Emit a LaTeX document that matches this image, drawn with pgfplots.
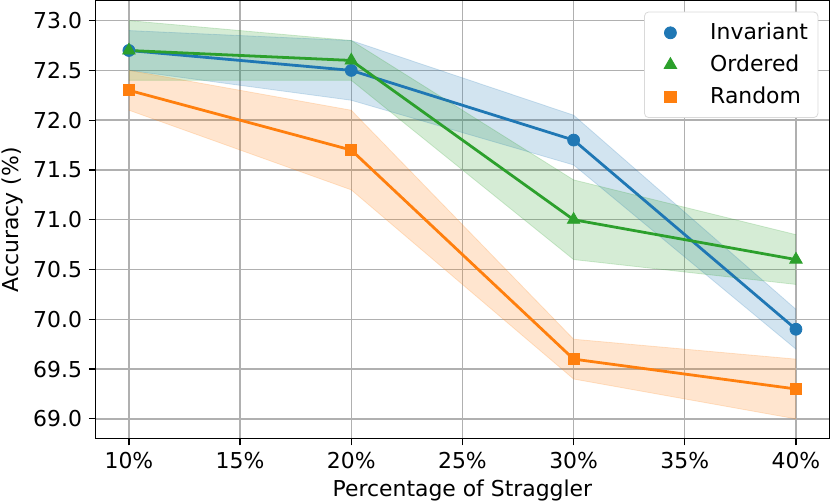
\documentclass[border=0pt]{standalone}
\usepackage{fontspec}
\setmainfont{DejaVu Sans}
\usepackage{pgfplots}
\pgfplotsset{compat=1.18}
\usepgfplotslibrary{fillbetween}
\definecolor{tblue}{HTML}{1F77B4}
\definecolor{torange}{HTML}{FF7F0E}
\definecolor{tgreen}{HTML}{2CA02C}
\definecolor{gridgray}{HTML}{B0B0B0}
\begin{document}
\begin{tikzpicture}
\begin{axis}[
  scale only axis,
  width=368.5pt, height=220pt,
  xmin=8.5, xmax=41.5,
  ymin=68.8, ymax=73.2,
  xtick={10,15,...,40},
  xticklabel={\pgfmathprintnumber{\tick}\%},
  ytick={69,69.5,...,73},
  yticklabel style={/pgf/number format/.cd,fixed,fixed zerofill,precision=1},
  /pgf/number format/assume math mode=true,
  font=\fontsize{11}{13}\selectfont,
  tick label style={font=\fontsize{11}{13}\selectfont},
  xlabel={Percentage of Straggler},
  ylabel={Accuracy (\%)},
  xlabel style={inner sep=1pt, yshift=-1pt},
  ylabel style={inner sep=1pt, yshift=0.5pt},
  grid=major,
  major grid style={gridgray, line width=0.7pt},
  axis line style={line width=0.6pt},
  tick style={black, line width=0.6pt},
  tick align=outside,
  major tick length=3.3pt,
  xtick pos=bottom, ytick pos=left,
  legend cell align=left,
  legend style={at={(0.985,0.975)}, anchor=north east,
    draw=gray!30, rounded corners=2pt, font=\fontsize{11}{13}\selectfont,
    row sep=2.2pt, inner xsep=3pt, inner ysep=3.5pt},
  legend image code/.code={\path[draw=none,fill=none] (0pt,0pt) -- (28pt,0pt);\draw[#1] plot coordinates {(10pt,0pt)};},
]
% Invariant band + line
\addplot[name path=iu, draw=tblue, draw opacity=0.2, forget plot] coordinates {(10,72.9) (20,72.8) (30,72.05) (40,70.1)};
\addplot[name path=il, draw=tblue, draw opacity=0.2, forget plot] coordinates {(10,72.5) (20,72.2) (30,71.55) (40,69.7)};
\addplot[tblue, fill opacity=0.2, forget plot] fill between[of=iu and il];
\addplot[tblue, line width=1.4pt, forget plot] coordinates {(10,72.7) (20,72.5) (30,71.8) (40,69.9)};
\addplot[tblue, only marks, mark=*, mark size=3pt] coordinates {(10,72.7) (20,72.5) (30,71.8) (40,69.9)};
% Ordered band + line
\addplot[name path=ou, draw=tgreen, draw opacity=0.2, forget plot] coordinates {(10,73.0) (20,72.8) (30,71.4) (40,70.85)};
\addplot[name path=ol, draw=tgreen, draw opacity=0.2, forget plot] coordinates {(10,72.4) (20,72.4) (30,70.6) (40,70.35)};
\addplot[tgreen, fill opacity=0.2, forget plot] fill between[of=ou and ol];
\addplot[tgreen, line width=1.4pt, forget plot] coordinates {(10,72.7) (20,72.6) (30,71.0) (40,70.6)};
\addplot[tgreen, only marks, mark=triangle*, mark size=3.6pt] coordinates {(10,72.7) (20,72.6) (30,71.0) (40,70.6)};
% Random band + line
\addplot[name path=ru, draw=torange, draw opacity=0.2, forget plot] coordinates {(10,72.5) (20,72.1) (30,69.8) (40,69.6)};
\addplot[name path=rl, draw=torange, draw opacity=0.2, forget plot] coordinates {(10,72.1) (20,71.3) (30,69.4) (40,69.0)};
\addplot[torange, fill opacity=0.2, forget plot] fill between[of=ru and rl];
\addplot[torange, line width=1.4pt, forget plot] coordinates {(10,72.3) (20,71.7) (30,69.6) (40,69.3)};
\addplot[torange, only marks, mark=square*, mark size=2.8pt] coordinates {(10,72.3) (20,71.7) (30,69.6) (40,69.3)};
\legend{Invariant, Ordered, Random}
\end{axis}
\end{tikzpicture}
\end{document}
